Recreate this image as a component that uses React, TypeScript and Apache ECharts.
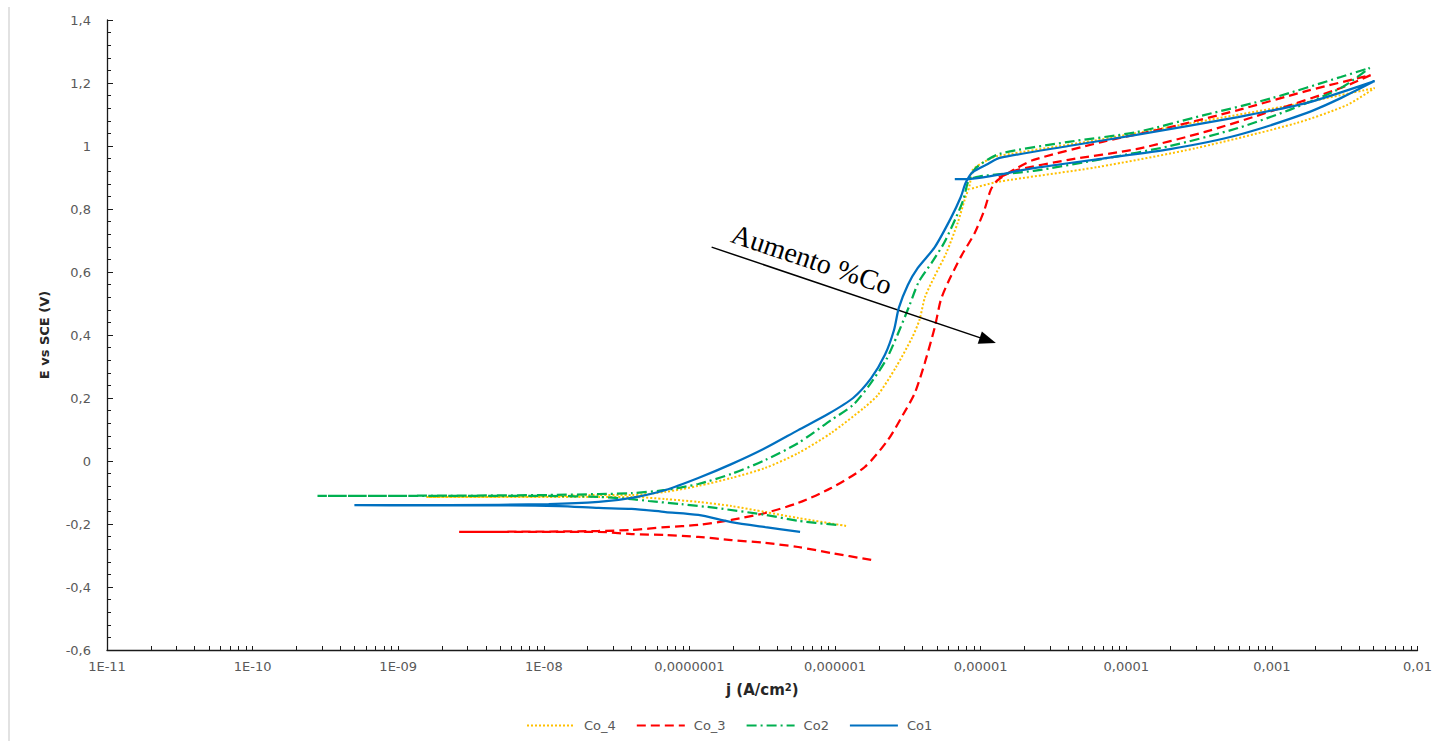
import React, { useEffect, useRef } from 'react';
import * as echarts from 'echarts';

// ---- Tick labels ----
const xTickLabels = ['1E-11', '1E-10', '1E-09', '1E-08', '0,0000001', '0,000001', '0,00001', '0,0001', '0,001', '0,01'];
const xDecades = [1e-11, 1e-10, 1e-9, 1e-8, 1e-7, 1e-6, 1e-5, 1e-4, 1e-3, 1e-2];
const seriesNames = ['Co_4', 'Co_3', 'Co2', 'Co1'];

// ---- Co1 (blue, solid) ----
const co1J = [5.75e-7, 3.32e-7, 1.94e-7, 1.15e-7, 6.86e-8, 4.01e-8, 2.38e-8, 1.27e-8, 4.92e-9, 1.39e-9, 5.0e-10, 2.23e-9, 1.08e-8, 2.38e-8, 4.01e-8, 6.86e-8, 1.15e-7, 1.94e-7, 3.32e-7, 5.58e-7, 8.95e-7, 1.33e-6, 1.77e-6, 2.20e-6, 2.54e-6, 2.74e-6, 3.16e-6, 3.70e-6, 4.84e-6, 6.24e-6, 7.30e-6, 7.89e-6, 8.81e-6, 1.12e-5, 1.35e-5, 4.01e-5, 1.17e-4, 5.85e-4, 1.74e-3, 5.07e-3, 2.97e-3, 1.74e-3, 5.85e-4, 2.00e-4, 6.86e-5, 2.31e-5, 7.89e-6, 6.64e-6];
const co1E = [-0.225, -0.210, -0.194, -0.171, -0.162, -0.152, -0.149, -0.143, -0.141, -0.141, -0.140, -0.140, -0.137, -0.130, -0.117, -0.092, -0.054, -0.010, 0.041, 0.098, 0.149, 0.200, 0.263, 0.337, 0.416, 0.486, 0.559, 0.613, 0.679, 0.771, 0.838, 0.883, 0.917, 0.943, 0.962, 1.000, 1.035, 1.092, 1.137, 1.206, 1.152, 1.105, 1.035, 0.990, 0.960, 0.930, 0.895, 0.895];

// ---- Co2 (green, dash-dot) ----
const co2J = [1.02e-6, 5.58e-7, 3.32e-7, 1.51e-7, 8.81e-8, 5.24e-8, 4.01e-8, 2.38e-8, 1.08e-8, 2.23e-9, 2.79e-10, 2.23e-9, 1.08e-8, 2.38e-8, 4.01e-8, 6.86e-8, 1.15e-7, 1.94e-7, 3.32e-7, 5.58e-7, 9.40e-7, 1.33e-6, 1.72e-6, 2.24e-6, 2.68e-6, 3.25e-6, 3.75e-6, 4.60e-6, 5.60e-6, 6.80e-6, 7.60e-6, 8.15e-6, 9.25e-6, 1.35e-5, 4.01e-5, 1.17e-4, 3.42e-4, 1.0e-3, 2.97e-3, 4.69e-3, 2.97e-3, 1.31e-3, 5.85e-4, 2.00e-4, 6.86e-5, 2.31e-5, 1.03e-5, 8.81e-6];
const co2E = [-0.203, -0.190, -0.171, -0.149, -0.137, -0.127, -0.121, -0.114, -0.111, -0.111, -0.111, -0.110, -0.108, -0.105, -0.102, -0.092, -0.073, -0.041, 0.003, 0.057, 0.130, 0.178, 0.241, 0.321, 0.400, 0.495, 0.568, 0.629, 0.692, 0.775, 0.829, 0.883, 0.930, 0.975, 1.013, 1.044, 1.098, 1.152, 1.219, 1.248, 1.184, 1.114, 1.057, 1.000, 0.959, 0.921, 0.905, 0.898];

// ---- Co_4 (yellow, dotted) ----
const co4J = [1.19e-6, 5.58e-7, 3.32e-7, 1.94e-7, 1.15e-7, 6.86e-8, 4.01e-8, 2.38e-8, 1.08e-8, 1.56e-9, 1.08e-8, 2.38e-8, 4.01e-8, 6.86e-8, 1.15e-7, 1.94e-7, 3.32e-7, 5.58e-7, 9.40e-7, 1.60e-6, 1.97e-6, 2.62e-6, 3.40e-6, 3.80e-6, 4.15e-6, 4.80e-6, 5.80e-6, 6.95e-6, 7.76e-6, 8.41e-6, 8.81e-6, 1.12e-5, 1.31e-5, 6.32e-5, 3.06e-4, 1.48e-3, 5.07e-3, 3.27e-3, 1.48e-3, 3.06e-4, 6.32e-5, 1.31e-5, 8.41e-6];
const co4E = [-0.206, -0.181, -0.162, -0.143, -0.130, -0.121, -0.114, -0.114, -0.114, -0.114, -0.112, -0.108, -0.108, -0.098, -0.079, -0.054, -0.022, 0.025, 0.089, 0.171, 0.210, 0.298, 0.394, 0.448, 0.521, 0.584, 0.660, 0.756, 0.829, 0.876, 0.924, 0.956, 0.968, 1.019, 1.076, 1.133, 1.184, 1.130, 1.073, 0.994, 0.933, 0.886, 0.863];

// ---- Co_3 (red, dashed) ----
const co3J = [1.77e-6, 9.40e-7, 5.58e-7, 3.32e-7, 1.94e-7, 1.15e-7, 6.86e-8, 4.01e-8, 2.38e-8, 1.08e-8, 2.62e-9, 1.08e-8, 2.38e-8, 4.01e-8, 6.86e-8, 1.15e-7, 1.94e-7, 3.32e-7, 5.58e-7, 9.40e-7, 1.60e-6, 2.31e-6, 2.92e-6, 3.53e-6, 4.13e-6, 4.84e-6, 5.32e-6, 5.94e-6, 7.30e-6, 9.10e-6, 1.06e-5, 1.17e-5, 1.27e-5, 1.44e-5, 1.77e-5, 2.31e-5, 6.86e-5, 2.00e-4, 5.85e-4, 1.74e-3, 4.76e-3, 2.97e-3, 1.0e-3, 3.42e-4, 1.17e-4, 4.01e-5, 1.79e-5, 1.31e-5];
const co3E = [-0.314, -0.292, -0.273, -0.260, -0.251, -0.241, -0.235, -0.232, -0.225, -0.225, -0.225, -0.224, -0.222, -0.219, -0.210, -0.203, -0.187, -0.165, -0.133, -0.086, -0.019, 0.067, 0.146, 0.216, 0.311, 0.425, 0.511, 0.565, 0.648, 0.724, 0.797, 0.860, 0.886, 0.905, 0.930, 0.956, 1.013, 1.060, 1.114, 1.175, 1.225, 1.184, 1.111, 1.044, 0.990, 0.956, 0.924, 0.898];

// ---- Annotation arrow (data coordinates) ----
const arrowStart = [1.42e-7, 0.679];
const arrowEnd = [1.12e-5, 0.383];
const annotationText = 'Aumento %Co';

const zip = (xs: number[], ys: number[]) => xs.map((x, i) => [x, ys[i]]);

const minorTickValues: number[] = [];
for (let e = -11; e < -2; e++) {
  for (let k = 1; k <= 9; k++) minorTickValues.push(Number((k * Math.pow(10, e)).toPrecision(6)));
}
minorTickValues.push(1e-2);

const fmtX = (v: number) => {
  const e = v > 0 && v < 1 ? Math.round(Math.log10(v)) : Math.round(v);
  return xTickLabels[e + 11] ?? '';
};
const fmtY = (v: number) => String(Number(v.toFixed(1))).replace('.', ',');

export default function App() {
  const ref = useRef<HTMLDivElement>(null);
  useEffect(() => {
    const chart = echarts.init(ref.current!, null, { renderer: 'svg' });
    const font = 'DejaVu Sans';
    const smooth = 0.25;
    chart.setOption({
      animation: false,
      backgroundColor: '#ffffff',
      textStyle: { fontFamily: font },
      grid: { left: 107, right: 14, top: 20, bottom: 91, containLabel: false },
      legend: {
        data: seriesNames,
        top: 714,
        left: 521,
        itemWidth: 48,
        itemHeight: 12,
        itemGap: 20,
        itemStyle: { opacity: 0 },
        textStyle: { fontSize: 13, color: '#595959', fontFamily: font, padding: [0, 0, 0, 4] },
      },
      xAxis: {
        type: 'log',
        logBase: 10,
        min: 1e-11,
        max: 1e-2,
        interval: 1,
        name: 'j (A/cm{sup|2})',
        nameLocation: 'middle',
        nameGap: 32,
        nameTextStyle: {
          fontFamily: font,
          fontWeight: 'bold',
          fontSize: 15,
          color: '#262626',
          rich: { sup: { fontSize: 10, fontWeight: 'bold', color: '#262626', verticalAlign: 'top', fontFamily: font } },
        },
        axisLine: { show: true, onZero: false, lineStyle: { color: '#1a1a1a', width: 1.3 } },
        axisTick: { show: true, inside: true, length: 4, customValues: minorTickValues, lineStyle: { color: '#1a1a1a', width: 1 } },
        minorTick: { show: false },
        splitLine: { show: false },
        axisLabel: { customValues: xDecades, formatter: fmtX, fontSize: 13, color: '#595959', margin: 10, fontFamily: font },
      },
      yAxis: {
        type: 'value',
        min: -0.6,
        max: 1.4,
        interval: 0.2,
        name: 'E vs SCE (V)',
        nameLocation: 'middle',
        nameGap: 56,
        nameTextStyle: { fontFamily: font, fontWeight: 'bold', fontSize: 13, color: '#262626' },
        axisLine: { show: true, onZero: false, lineStyle: { color: '#1a1a1a', width: 1.3 } },
        axisTick: { show: true, inside: true, length: 6, lineStyle: { color: '#1a1a1a', width: 1 } },
        minorTick: { show: true, splitNumber: 5, length: 4, lineStyle: { color: '#1a1a1a', width: 1 } },
        splitLine: { show: false },
        axisLabel: { formatter: fmtY, fontSize: 13, color: '#595959', margin: 16, fontFamily: font },
      },
      graphic: [
        { type: 'line', silent: true, shape: { x1: 9, y1: 7, x2: 9, y2: 741 }, style: { stroke: '#d9d9d9', lineWidth: 1.5 } },
        {
          type: 'text',
          x: 728,
          y: 246,
          rotation: -0.325,
          silent: true,
          style: { text: annotationText, fontSize: 28, fontFamily: 'Liberation Serif', fill: '#000', align: 'left', verticalAlign: 'bottom' },
        },
      ],
      series: [
        {
          name: 'Co_4', type: 'line', symbol: 'none', smooth, data: zip(co4J, co4E),
          lineStyle: { color: '#FFC000', width: 2, type: [2, 2] }, itemStyle: { color: '#FFC000' }, z: 2,
        },
        {
          name: 'Co_3', type: 'line', symbol: 'none', smooth, data: zip(co3J, co3E),
          lineStyle: { color: '#FF0000', width: 2.25, type: [9, 5] }, itemStyle: { color: '#FF0000' }, z: 3,
        },
        {
          name: 'Co2', type: 'line', symbol: 'none', smooth, data: zip(co2J, co2E),
          lineStyle: { color: '#00B050', width: 2.25, type: [10, 4, 2, 4] }, itemStyle: { color: '#00B050' }, z: 4,
        },
        {
          name: 'Co1', type: 'line', symbol: 'none', smooth, data: zip(co1J, co1E),
          lineStyle: { color: '#0070C0', width: 2.25, type: 'solid' }, itemStyle: { color: '#0070C0' }, z: 5,
          markLine: {
            silent: true,
            symbol: ['none', 'triangle'],
            symbolSize: [13, 17],
            label: { show: false },
            lineStyle: { color: '#000', width: 1.5, type: 'solid' },
            data: [[{ coord: arrowStart }, { coord: arrowEnd }]],
          },
        },
      ],
    });
    return () => chart.dispose();
  }, []);
  return <div ref={ref} style={{ position: 'fixed', left: 0, top: 0, width: 1435, height: 741, background: '#fff' }} />;
}
